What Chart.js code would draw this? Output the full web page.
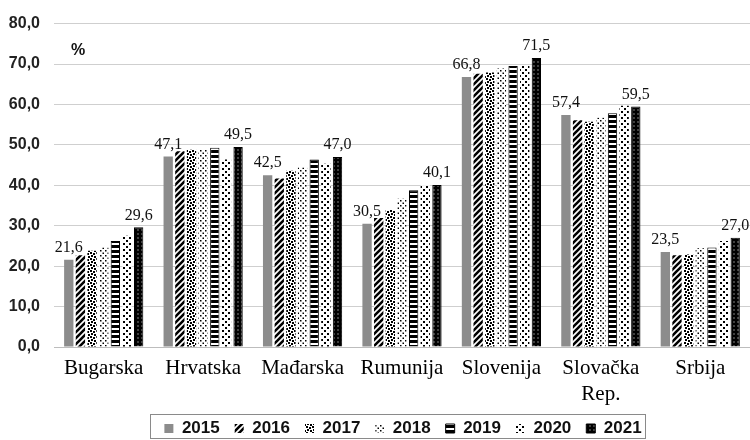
<!DOCTYPE html>
<html>
<head>
<meta charset="utf-8">
<script src="https://cdn.jsdelivr.net/npm/chart.js@4.4.0/dist/chart.umd.min.js"></script>
<style>
  html, body { margin: 0; padding: 0; background: #fff; }
  #wrap { width: 750px; height: 440px; }
</style>
</head>
<body>
<div id="wrap"><canvas id="chart"></canvas></div>
<script>
// zemlje i godine
const countries = ['Bugarska', 'Hrvatska', 'Mađarska', 'Rumunija', 'Slovenija', ['Slovačka', 'Rep.'], 'Srbija'];
const years = ['2015', '2016', '2017', '2018', '2019', '2020', '2021'];

// vrijednosti po godinama (%)
const v2015 = [21.6, 47.1, 42.5, 30.5, 66.8, 57.4, 23.5];
const v2016 = [22.7, 48.4, 41.7, 31.9, 67.6, 56.1, 22.7];
const v2017 = [23.8, 48.8, 43.6, 33.9, 67.9, 55.7, 22.9];
const v2018 = [24.6, 49.0, 44.4, 36.7, 68.9, 56.7, 24.4];
const v2019 = [26.2, 49.3, 46.4, 38.8, 69.5, 57.8, 24.6];
const v2020 = [27.5, 46.4, 45.3, 40.0, 69.5, 59.7, 26.2];
const v2021 = [29.6, 49.5, 47.0, 40.1, 71.5, 59.5, 27.0];

const yTicks = [0, 10, 20, 30, 40, 50, 60, 70, 80];

// uzorci za stupce
function pattern(size, bg, draw) {
    const c = document.createElement('canvas');
    c.width = size; c.height = size;
    const g = c.getContext('2d');
    g.fillStyle = bg;
    g.fillRect(0, 0, size, size);
    draw(g, size);
    return g.createPattern(c, 'repeat');
}

const fills = [
    '#8c8c8c',
    pattern(6, '#fff', (g, s) => {
        g.strokeStyle = '#000';
        g.lineWidth = 2.6;
        g.beginPath();
        g.moveTo(-1, s + 1); g.lineTo(s + 1, -1);
        g.moveTo(-4, 4); g.lineTo(4, -4);
        g.moveTo(s - 4, s + 4); g.lineTo(s + 4, s - 4);
        g.stroke();
    }),
    pattern(6, '#fff', (g) => {
        g.fillStyle = '#000';
        g.fillRect(0, 0, 2, 2);
        g.fillRect(3, 1, 2, 2);
        g.fillRect(1, 3, 2, 2);
        g.fillRect(4, 4, 2, 2);
    }),
    pattern(5, '#fff', (g) => {
        g.fillStyle = '#000';
        g.fillRect(0, 0, 1.5, 1.5);
        g.fillRect(2.5, 2.5, 1.5, 1.5);
    }),
    pattern(5, '#fff', (g) => {
        g.fillStyle = '#000';
        g.fillRect(0, 0, 5, 3);
    }),
    pattern(6, '#fff', (g) => {
        g.fillStyle = '#000';
        g.fillRect(0, 0, 2, 2);
        g.fillRect(3, 3, 2, 2);
    }),
    pattern(4, '#000', (g) => {
        g.fillStyle = '#fff';
        g.fillRect(1.5, 1.5, 1, 1);
    })
];

const series = [v2015, v2016, v2017, v2018, v2019, v2020, v2021];

const datasets = series.map((vals, i) => ({
    label: years[i],
    data: vals,
    backgroundColor: fills[i],
    borderColor: '#000',
    borderWidth: (i === 4 || i === 6) ? 1 : 0,
    barPercentage: 0.8,
    categoryPercentage: 0.82
}));

const fmt = v => v.toFixed(1).replace('.', ',');

// oznake vrijednosti za 2015. i 2021.
const valueLabels = {
    id: 'valueLabels',
    afterDatasetsDraw(chart) {
        const ctx = chart.ctx;
        ctx.save();
        ctx.font = '16px "Liberation Serif", serif';
        ctx.fillStyle = '#111';
        ctx.textAlign = 'center';
        ctx.textBaseline = 'bottom';
        [0, 6].forEach(di => {
            chart.getDatasetMeta(di).data.forEach((bar, i) => {
                ctx.fillText(fmt(chart.data.datasets[di].data[i]), bar.x, bar.y - 4);
            });
        });
        // oznaka jedinice
        ctx.font = 'bold 16px "Liberation Sans", sans-serif';
        ctx.textAlign = 'left';
        ctx.textBaseline = 'middle';
        ctx.fillText('%', 71, 51);
        ctx.restore();
    }
};

// legenda malo udesno + okvir
const legendBox = {
    id: 'legendBox',
    afterLayout(chart) {
        chart.legend.left += 28;
        chart.legend.right += 28;
    },
    afterDraw(chart) {
        const boxes = chart.legend.legendHitBoxes;
        if (!boxes || !boxes.length) return;
        const left = Math.min(...boxes.map(b => b.left));
        const right = Math.max(...boxes.map(b => b.left + b.width));
        const mid = boxes[0].top + boxes[0].height / 2;
        const ctx = chart.ctx;
        ctx.save();
        ctx.strokeStyle = '#8a8a8a';
        ctx.lineWidth = 1;
        ctx.strokeRect(Math.round(left - 14) + 0.5, Math.round(mid - 15) + 0.5, Math.round(right - left + 18), 24);
        ctx.restore();
    }
};

new Chart(document.getElementById('chart'), {
    type: 'bar',
    data: { labels: countries, datasets: datasets },
    options: {
        responsive: true,
        maintainAspectRatio: false,
        animation: false,
        layout: { padding: { top: 20, right: 0, left: 0, bottom: -7 } },
        plugins: {
            tooltip: { enabled: false },
            legend: {
                position: 'bottom',
                labels: {
                    boxWidth: 9,
                    boxHeight: 9,
                    padding: 15,
                    color: '#111',
                    font: { family: '"Liberation Sans", sans-serif', size: 17, weight: 'bold', lineHeight: 1.2 }
                }
            }
        },
        scales: {
            x: {
                grid: { display: false, drawTicks: false },
                border: { display: true, color: '#bdbdbd' },
                ticks: {
                    padding: 8,
                    color: '#000',
                    maxRotation: 0,
                    font: { family: '"Liberation Serif", serif', size: 21, lineHeight: 1.24 }
                },
                afterFit: s => { s.height = 58; }
            },
            y: {
                min: 0,
                max: 80,
                afterBuildTicks: s => { s.ticks = yTicks.map(v => ({ value: v })); },
                grid: { color: '#cfcfcf', drawTicks: false },
                border: { display: false },
                ticks: {
                    padding: 14,
                    color: '#222',
                    font: { family: '"Liberation Sans", sans-serif', size: 16, weight: 'bold' },
                    callback: v => fmt(v)
                },
                afterFit: s => { s.width = 54; }
            }
        }
    },
    plugins: [valueLabels, legendBox]
});
</script>
</body>
</html>
